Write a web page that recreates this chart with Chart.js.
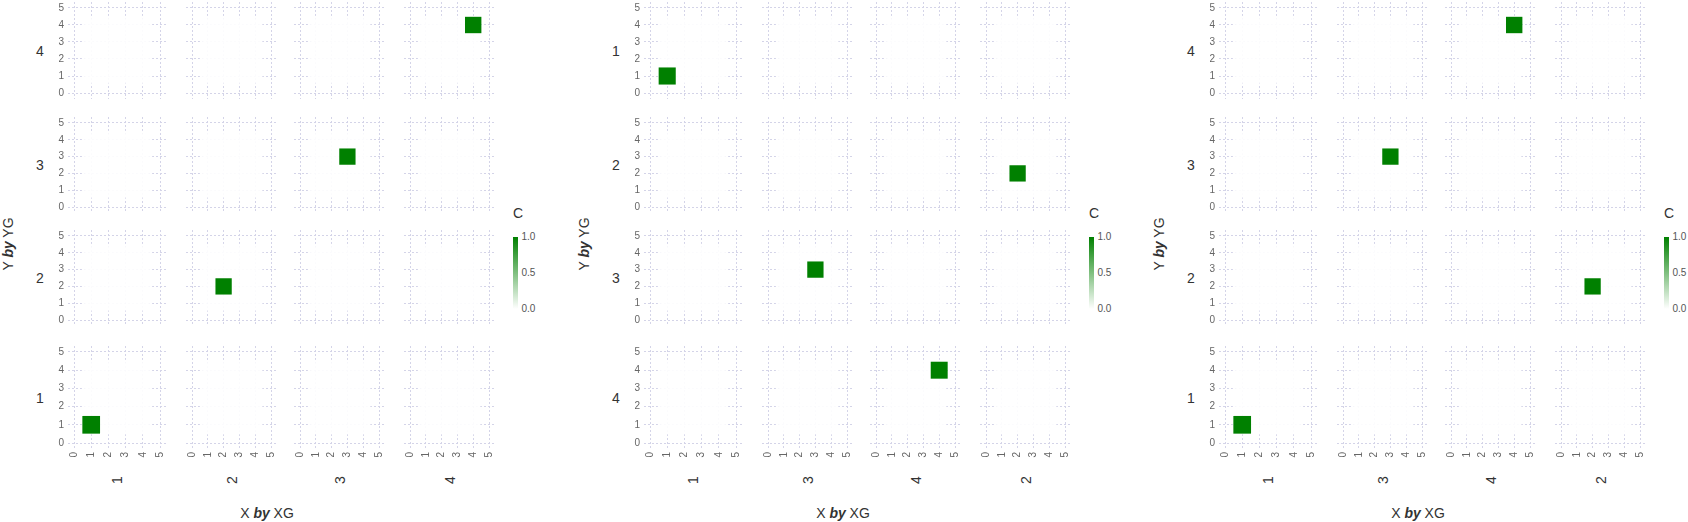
<!DOCTYPE html>
<html><head><meta charset="utf-8">
<script src="https://cdn.jsdelivr.net/npm/chart.js@4.4.1/dist/chart.umd.min.js"></script>
<style>
html,body{margin:0;padding:0;background:#fff;}
#root{position:relative;width:1688px;height:522px;overflow:hidden;font-family:"Liberation Sans",Arial,Helvetica,sans-serif;}
#root canvas{position:absolute;}
.t{position:absolute;white-space:nowrap;color:#333;line-height:1;}
</style></head><body><div id="root"></div>
<script>
// ---- data ----
const X  = [1, 2, 3, 4];
const Y  = [1, 2, 3, 4];
const XG = [1, 2, 3, 4];
const YG = [1, 2, 3, 4];
const C  = [1, 1, 1, 1];
// facet orders of the three panels (columns left→right, rows top→bottom)
const PANEL_X_ORDER = [[1, 2, 3, 4], [1, 3, 4, 2], [1, 3, 4, 2]];
const PANEL_Y_ORDER = [[4, 3, 2, 1], [1, 2, 3, 4], [4, 3, 2, 1]];
const TICKS = [0, 1, 2, 3, 4, 5];
const LEGEND_TICKS = [0.0, 0.5, 1.0];
const X_TITLE = 'X', X_GROUP_TITLE = 'XG', Y_TITLE = 'Y', Y_GROUP_TITLE = 'YG', C_TITLE = 'C';

// ---- layout / style ----
const PANEL_DX = 575.5;
const COL_LEFT = [74, 192, 300, 410], COL_W = [86, 79, 79, 79];
const ROW_TOP = [8, 123, 236, 352], ROW_H = [85, 84, 84, 91];
const EXT = 6, YAXW = 18, XAXH = 22;
const GRID_RGB = '212,212,232';
const GREEN = [0, 128, 0];
const DOMAIN = [TICKS[0], TICKS[TICKS.length - 1]];

function colorFor(v) {
  const c = GREEN.map(g => Math.round(255 + (g - 255) * v));
  return `rgb(${c[0]},${c[1]},${c[2]})`;
}

function gridColor(ctx, horizontal) {
  const chart = ctx.chart, a = chart.chartArea;
  const solid = `rgba(${GRID_RGB},1)`;
  if (!a || !ctx.tick) return solid;
  const v = ctx.tick.value;
  if (v === DOMAIN[0] || v === DOMAIN[1]) return solid;
  const len = horizontal ? (a.right - a.left) : (a.bottom - a.top);
  const g = horizontal ? chart.ctx.createLinearGradient(a.left, 0, a.right, 0)
                       : chart.ctx.createLinearGradient(0, a.top, 0, a.bottom);
  const f1 = Math.min(0.45, (EXT + 7) / len), f2 = Math.min(0.48, (EXT + 11) / len);
  const faint = `rgba(${GRID_RGB},0.08)`;
  g.addColorStop(0, solid); g.addColorStop(f1, solid); g.addColorStop(f2, faint);
  g.addColorStop(1 - f2, faint); g.addColorStop(1 - f1, solid); g.addColorStop(1, solid);
  return g;
}

const root = document.getElementById('root');

function addText(html, cx, cy, size, opts = {}) {
  const d = document.createElement('div');
  d.className = 't';
  d.innerHTML = html;
  d.style.fontSize = size + 'px';
  d.style.left = cx + 'px';
  d.style.top = cy + 'px';
  if (opts.color) d.style.color = opts.color;
  const rot = opts.rotate ? ' rotate(-90deg)' : '';
  d.style.transform = (opts.align === 'left' ? 'translate(0,-50%)' : 'translate(-50%,-50%)') + rot;
  root.appendChild(d);
}

function makeCell(px, r, c, xg, yg) {
  const leftCol = c === 0, bottomRow = r === 3;
  const w = COL_W[c] + 2 * EXT + (leftCol ? YAXW : 0);
  const h = ROW_H[r] + 2 * EXT + (bottomRow ? XAXH : 0);
  const cv = document.createElement('canvas');
  cv.width = w; cv.height = h;
  cv.style.width = w + 'px'; cv.style.height = h + 'px';
  cv.style.left = (px + COL_LEFT[c] - EXT - (leftCol ? YAXW : 0)) + 'px';
  cv.style.top = (ROW_TOP[r] - EXT) + 'px';
  root.appendChild(cv);

  const ex = EXT * (DOMAIN[1] - DOMAIN[0]) / COL_W[c];
  const ey = EXT * (DOMAIN[1] - DOMAIN[0]) / ROW_H[r];
  const pts = [];
  for (let i = 0; i < X.length; i++) {
    if (XG[i] === xg && YG[i] === yg) pts.push({x: X[i], y: Y[i], c: C[i]});
  }
  const tickFont = {family: '"Liberation Sans", Arial, sans-serif', size: 10};
  const fixTicks = s => { s.ticks = TICKS.map(v => ({value: v})); };
  const markRadius = ctx => {
    const s = ctx.chart.scales;
    const ux = Math.abs(s.x.getPixelForValue(1) - s.x.getPixelForValue(0));
    const uy = Math.abs(s.y.getPixelForValue(1) - s.y.getPixelForValue(0));
    return Math.sqrt(ux * uy) / Math.SQRT2;
  };
  new Chart(cv, {
    type: 'scatter',
    data: {datasets: [{
      data: pts,
      pointStyle: 'rect',
      backgroundColor: ctx => colorFor(ctx.raw ? ctx.raw.c : 1),
      borderWidth: 0,
      pointRadius: markRadius,
      pointHoverRadius: markRadius
    }]},
    options: {
      responsive: false, animation: false, events: [],
      devicePixelRatio: 1,
      layout: {padding: 0},
      plugins: {legend: {display: false}, tooltip: {enabled: false}},
      scales: {
        x: {
          type: 'linear', min: DOMAIN[0] - ex, max: DOMAIN[1] + ex,
          afterBuildTicks: fixTicks,
          afterFit: s => { s.height = bottomRow ? XAXH : 0; s.paddingLeft = s.paddingRight = s.paddingTop = s.paddingBottom = 0; },
          grid: {color: ctx => gridColor(ctx, false), drawTicks: false, lineWidth: 1},
          border: {display: false, dash: [2, 2]},
          ticks: {display: bottomRow, autoSkip: false, minRotation: 90, maxRotation: 90, padding: 3,
                  color: '#666', font: tickFont}
        },
        y: {
          type: 'linear', min: DOMAIN[0] - ey, max: DOMAIN[1] + ey,
          afterBuildTicks: fixTicks,
          afterFit: s => { s.width = leftCol ? YAXW : 0; s.paddingLeft = s.paddingRight = s.paddingTop = s.paddingBottom = 0; },
          grid: {color: ctx => gridColor(ctx, true), drawTicks: false, lineWidth: 1},
          border: {display: false, dash: [2, 2]},
          ticks: {display: leftCol, autoSkip: false, padding: 4, color: '#666', font: tickFont}
        }
      }
    }
  });
}

for (let p = 0; p < 3; p++) {
  const px = Math.round(p * PANEL_DX);
  const xo = PANEL_X_ORDER[p], yo = PANEL_Y_ORDER[p];
  for (let r = 0; r < 4; r++) {
    for (let c = 0; c < 4; c++) makeCell(px, r, c, xo[c], yo[r]);
    addText(String(yo[r]), px + 40, ROW_TOP[r] + ROW_H[r] / 2, 14);
  }
  for (let c = 0; c < 4; c++) {
    addText(String(xo[c]), px + COL_LEFT[c] + COL_W[c] / 2, 480, 14, {rotate: true});
  }
  addText(`${Y_TITLE} <b><i>by</i></b> ${Y_GROUP_TITLE}`, px + 7.5, 244, 14, {rotate: true});
  addText(`${X_TITLE} <b><i>by</i></b> ${X_GROUP_TITLE}`, px + 267, 512.5, 14);
  // colour legend
  addText(C_TITLE, px + 513, 213, 14, {align: 'left'});
  const barTop = 237, barH = 71.5;
  const bar = document.createElement('div');
  bar.style.cssText = `position:absolute;left:${px + 513}px;top:${barTop}px;width:5px;height:${barH}px;` +
    `background:linear-gradient(to top, ${colorFor(0)}, ${colorFor(1)});`;
  root.appendChild(bar);
  LEGEND_TICKS.forEach(v => addText(v.toFixed(1), px + 521.5, barTop + barH * (1 - v), 10, {align: 'left', color: '#555'}));
}
</script>
</body></html>
